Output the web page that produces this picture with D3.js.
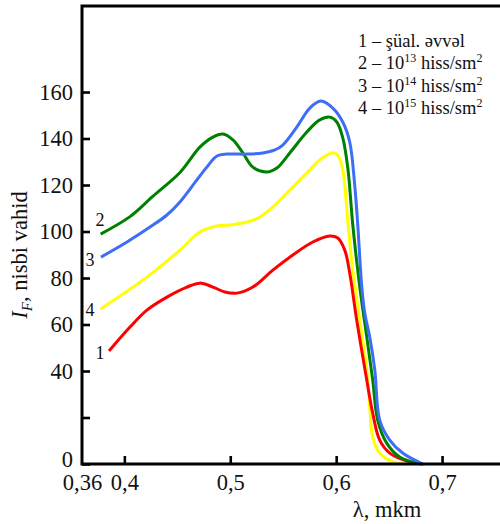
<!DOCTYPE html>
<html>
<head>
<meta charset="utf-8">
<script src="https://cdn.jsdelivr.net/npm/d3@7"></script>
<style>
  html, body { margin: 0; padding: 0; background: #fff; }
  svg { display: block; }
  text { font-family: "Liberation Serif", "Times New Roman", serif; fill: #111; }
</style>
</head>
<body>
<svg id="chart" width="500" height="524"></svg>
<script>
// Wavelength (mkm) / intensity (relative units) for each spectrum
const curve1X = [0.3855, 0.4053, 0.4213, 0.4402, 0.4591, 0.4713, 0.4836, 0.4949, 0.5062, 0.5213, 0.5402, 0.5591, 0.5779, 0.5940, 0.6015, 0.6081, 0.6128, 0.6194, 0.6289, 0.6345, 0.6411, 0.6506, 0.6666, 0.6817];
const curve1Y = [48.6, 58.9, 66.2, 71.8, 76.1, 77.8, 76.1, 74.0, 73.5, 76.1, 83.4, 89.9, 95.5, 98.1, 97.2, 92.0, 82.2, 61.9, 36.1, 21.9, 10.3, 4.7, 1.3, 0];

const curve2X = [0.3776, 0.4053, 0.4270, 0.4525, 0.4713, 0.4836, 0.4930, 0.5025, 0.5119, 0.5213, 0.5345, 0.5440, 0.5562, 0.5723, 0.5845, 0.5940, 0.6006, 0.6063, 0.6110, 0.6157, 0.6223, 0.6289, 0.6345, 0.6392, 0.6477, 0.6600, 0.6760, 0.6817];
const curve2Y = [98.9, 106.4, 115.2, 125.4, 136.3, 140.6, 141.9, 139.4, 133.8, 127.7, 125.6, 127.3, 133.8, 142.8, 148.0, 149.2, 147.1, 140.2, 127.3, 102.8, 76.1, 54.6, 36.1, 18.9, 9.0, 3.0, 0.4, 0];

const curve3X = [0.3779, 0.4025, 0.4242, 0.4402, 0.4525, 0.4685, 0.4779, 0.4874, 0.4968, 0.5157, 0.5308, 0.5421, 0.5496, 0.5628, 0.5751, 0.5855, 0.5968, 0.6062, 0.6128, 0.6175, 0.6204, 0.6242, 0.6270, 0.6317, 0.6365, 0.6411, 0.6506, 0.6628, 0.6817];
const curve3Y = [89.0, 95.5, 101.9, 107.1, 112.7, 122.2, 127.7, 132.5, 133.3, 133.3, 133.8, 135.1, 137.2, 144.9, 153.1, 156.1, 153.1, 147.1, 138.5, 120.0, 102.8, 76.1, 65.0, 54.6, 40.4, 18.9, 10.3, 4.7, 0];

const curve4X = [0.3776, 0.4213, 0.4525, 0.4713, 0.4874, 0.4996, 0.5157, 0.5279, 0.5402, 0.5562, 0.5723, 0.5845, 0.5958, 0.6006, 0.6053, 0.6081, 0.6109, 0.6157, 0.6223, 0.6289, 0.6317, 0.6345, 0.6411, 0.6534, 0.6628];
const curve4Y = [66.7, 80.4, 92.0, 99.8, 102.4, 102.8, 104.1, 106.2, 110.5, 117.8, 125.2, 130.8, 133.8, 133.3, 128.6, 120.0, 104.9, 83.4, 61.9, 40.4, 24.5, 11.6, 4.7, 0.9, 0];

const curveNames = ["1", "2", "3", "4"];
const curveColors = ["#ff0000", "#008000", "#3d6ef5", "#ffff00"];

// Axis ticks
const xTicks = [0.36, 0.4, 0.5, 0.6, 0.7];
const xTickLabels = ["0,36", "0,4", "0,5", "0,6", "0,7"];
const yTicks = [0, 20, 40, 60, 80, 100, 120, 140, 160];
const yTickLabels = ["0", "", "40", "60", "80", "100", "120", "140", "160"];

const svg = d3.select("#chart");

const x = d3.scaleLinear().domain([0.36, 0.7547]).range([82, 500]);
const y = d3.scaleLinear().domain([0, 197]).range([464, 6]);

// Series, drawn back to front so the blue and green lie on top
const series = [
  { name: "4", xs: curve4X, ys: curve4Y, color: curveColors[3] },
  { name: "1", xs: curve1X, ys: curve1Y, color: curveColors[0] },
  { name: "2", xs: curve2X, ys: curve2Y, color: curveColors[1] },
  { name: "3", xs: curve3X, ys: curve3Y, color: curveColors[2] }
];

const line = d3.line()
  .x(d => x(d[0]))
  .y(d => Math.min(y(d[1]), y(0)))
  .curve(d3.curveCatmullRom.alpha(0.5));

svg.append("g").selectAll("path")
  .data(series)
  .join("path")
  .attr("d", s => line(s.xs.map((v, i) => [v, s.ys[i]])))
  .attr("fill", "none")
  .attr("stroke", s => s.color)
  .attr("stroke-width", 3)
  .attr("stroke-linejoin", "round")
  .attr("stroke-linecap", "butt");

// Axes with inward ticks
const xAxis = d3.axisBottom(x)
  .tickValues(xTicks)
  .tickFormat((d, i) => xTickLabels[i])
  .tickSizeInner(-8)
  .tickSizeOuter(0)
  .tickPadding(10);

const yAxis = d3.axisLeft(y)
  .tickValues(yTicks)
  .tickFormat((d, i) => yTickLabels[i])
  .tickSizeInner(-8)
  .tickSizeOuter(0)
  .tickPadding(9);

const gx = svg.append("g").attr("transform", "translate(0,464)").call(xAxis);
const gy = svg.append("g").attr("transform", "translate(82,0)").call(yAxis);

[gx, gy].forEach(g => {
  g.select(".domain").remove();
  g.selectAll(".tick line").attr("stroke", "#000").attr("stroke-width", 2.6);
  g.selectAll(".tick text")
    .style("font-family", "'Liberation Serif', 'Times New Roman', serif")
    .style("font-size", "22.5px")
    .attr("fill", "#111");
});
gx.selectAll(".tick").filter(d => d === 0.36).select("line").remove();
// lift the zero label a little off the x tick labels
gy.selectAll(".tick").filter(d => d === 0).select("text").attr("dy", "0.1em");

// Frame: left axis, bottom axis and top border
svg.append("path")
  .attr("d", `M500,${y(197)}H${x(0.36)}V${y(0)}H500`)
  .attr("fill", "none")
  .attr("stroke", "#000")
  .attr("stroke-width", 3)
  .attr("stroke-linejoin", "miter");

// Axis titles
const yTitle = svg.append("text")
  .attr("transform", "translate(27,255) rotate(-90)")
  .attr("text-anchor", "middle")
  .style("font-size", "22.5px");
yTitle.append("tspan").attr("font-style", "italic").text("I");
yTitle.append("tspan").attr("font-style", "italic").attr("font-size", "15px").attr("dy", 5).text("F");
yTitle.append("tspan").attr("dy", -5).text(", nisbi vahid");

svg.append("text")
  .attr("x", 387)
  .attr("y", 517)
  .attr("text-anchor", "middle")
  .style("font-size", "22.5px")
  .text("λ, mkm");

// Curve numbers at the start of each line
const numberPos = [
  { t: "2", x: 100, y: 226 },
  { t: "3", x: 90, y: 266 },
  { t: "4", x: 90, y: 316 },
  { t: "1", x: 100, y: 359 }
];
svg.append("g").selectAll("text")
  .data(numberPos)
  .join("text")
  .attr("x", d => d.x)
  .attr("y", d => d.y)
  .attr("text-anchor", "middle")
  .style("font-size", "18px")
  .text(d => d.t);

// Legend
const legendRows = [
  { n: "1", main: "şüal. əvvəl", exp: null },
  { n: "2", main: "10", exp: "13" },
  { n: "3", main: "10", exp: "14" },
  { n: "4", main: "10", exp: "15" }
];
const legend = svg.append("g").attr("transform", "translate(358,47)");
legendRows.forEach((r, i) => {
  const t = legend.append("text")
    .attr("y", i * 22.4)
    .style("font-size", "18.5px");
  t.append("tspan").text(`${r.n} – ${r.main}`);
  if (r.exp) {
    t.append("tspan").attr("font-size", "12px").attr("dy", -7).text(r.exp);
    t.append("tspan").attr("dy", 7).text(" hiss/sm");
    t.append("tspan").attr("font-size", "12px").attr("dy", -7).text("2");
  }
});
</script>
</body>
</html>
